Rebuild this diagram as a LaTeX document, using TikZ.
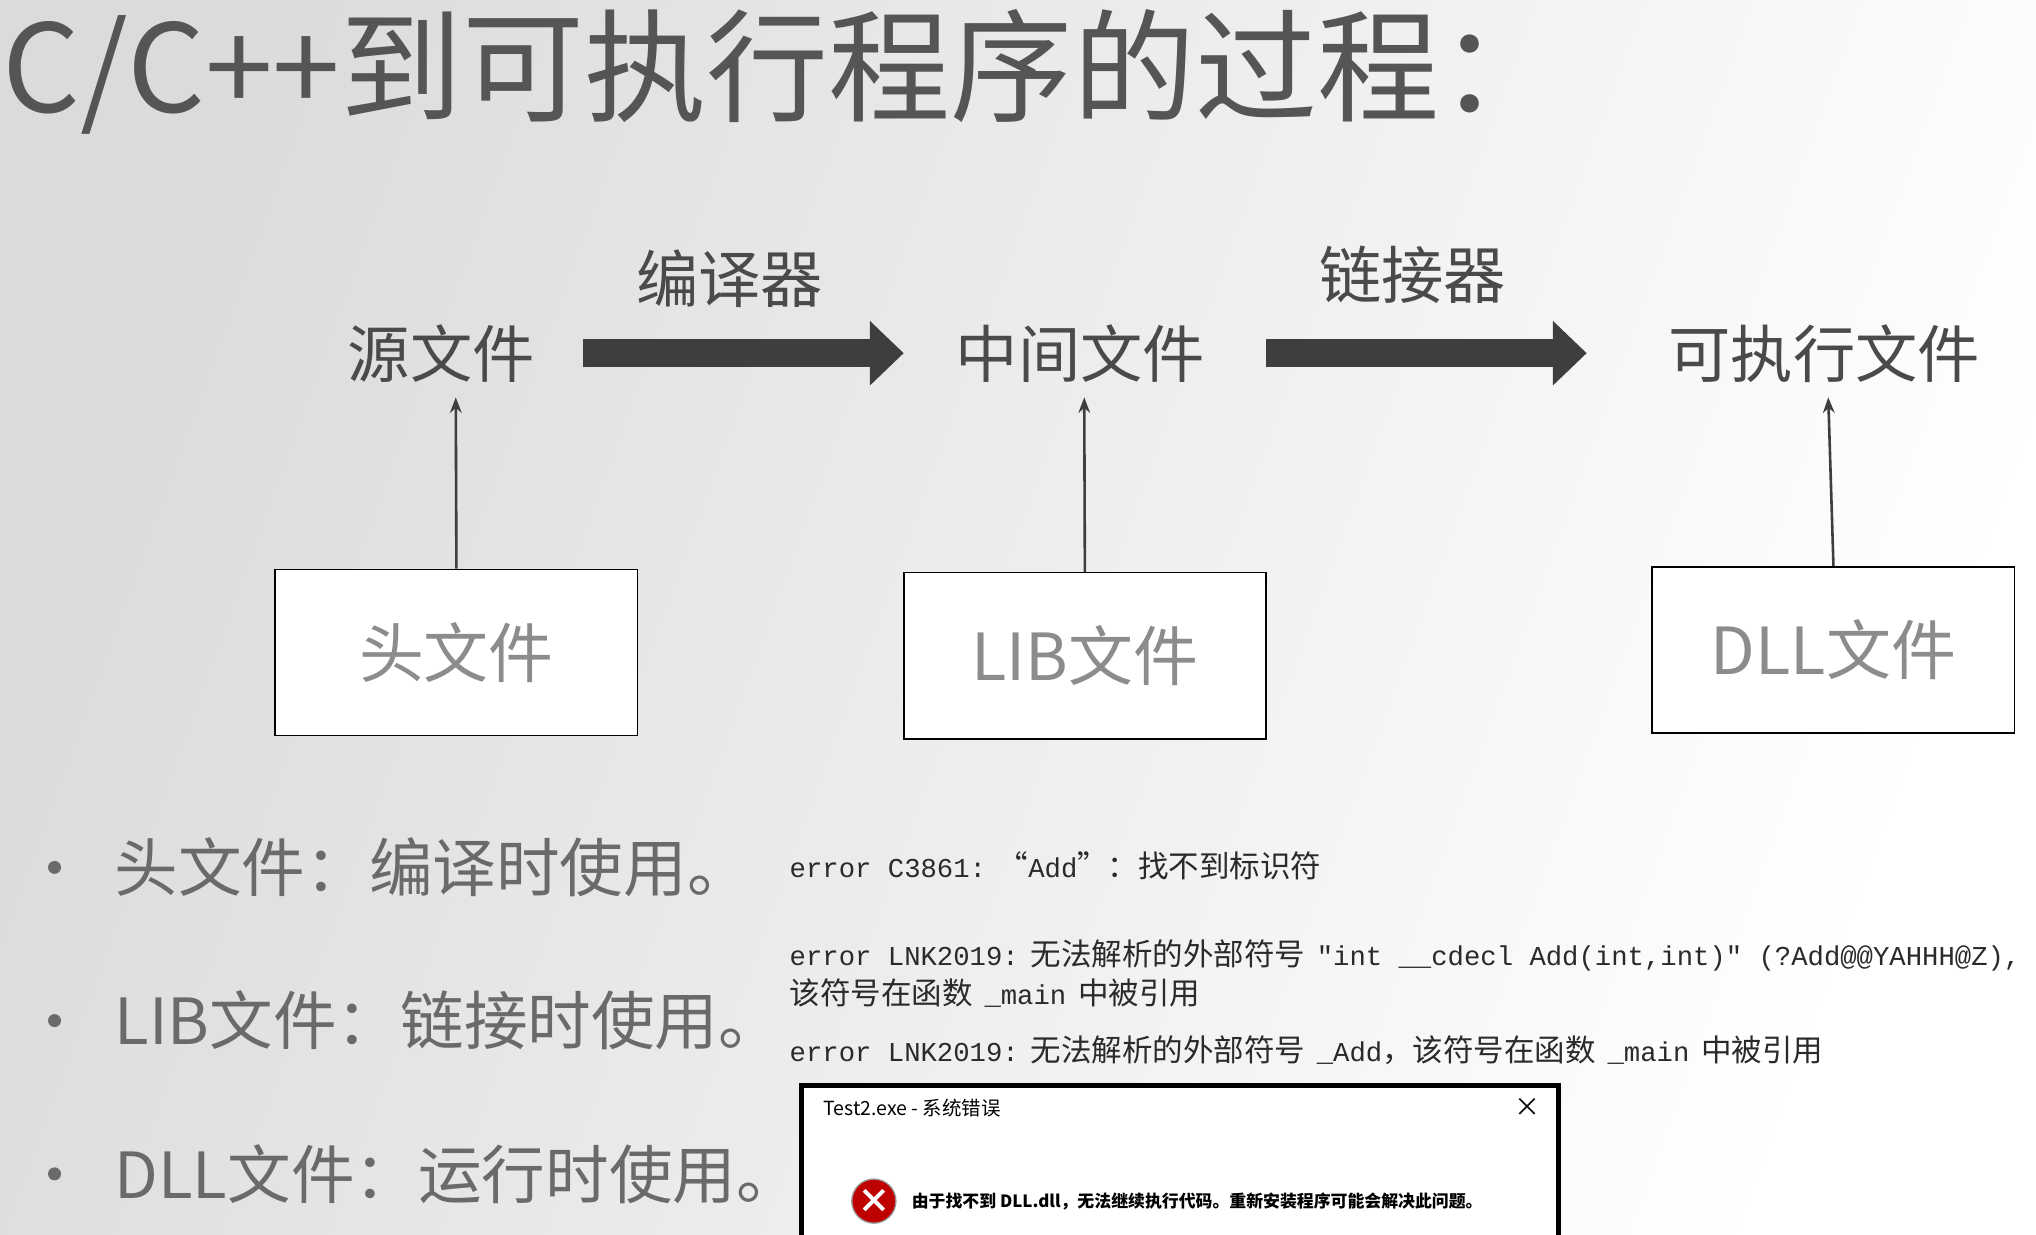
\documentclass[tikz,border=0pt]{standalone}
\usepackage{fontspec}
\setmainfont{Noto Sans CJK SC}
\setmonofont{Liberation Mono}
\usetikzlibrary{arrows.meta}
\definecolor{titlec}{HTML}{555555}
\definecolor{labc}{HTML}{4A4A4A}
\definecolor{boxc}{HTML}{8C8C8C}
\definecolor{bulc}{HTML}{6A6A6A}
\definecolor{errc}{HTML}{2A2A2A}
\definecolor{arrc}{HTML}{3E3E3E}
\newcommand{\tm}[1]{{\ttfamily\fontsize{21}{24}\selectfont #1}}
\newcommand{\cj}[1]{{\fontsize{23.5}{25}\selectfont #1}}
\newcommand{\gapsp}{\hspace{9pt}}
\begin{document}
\begin{tikzpicture}[x=1pt,y=-1pt,
  lab/.style={inner sep=0pt,text=labc,font=\fontsize{48}{50}\selectfont},
  boxnode/.style={draw=black,line width=1.3pt,fill=white,minimum width=279pt,minimum height=128pt,inner sep=0pt,text=boxc,font=\fontsize{50}{52}\selectfont},
  bigarrow/.style={draw=arrc,line width=22pt,-{Triangle[length=26pt,width=48pt]}},
  thinarrow/.style={draw=arrc,line width=2pt,-{Stealth[length=12pt,width=9pt]}},
  bullet/.style={inner sep=0pt,anchor=west,text=bulc,font=\fontsize{49}{52}\selectfont},
  err/.style={inner sep=0pt,anchor=west,text=errc,align=left}]
\useasboundingbox (0,0) rectangle (1568,951);
\shade[left color=black!14,right color=white,shading angle=70] (0,0) rectangle (1568,951);
\node[inner sep=0pt,anchor=west,text=titlec,font=\fontsize{94}{96}\selectfont] (title) at (2,55) {C/C++到可执行程序的过程：};
\node[lab] (src) at (340,272) {源文件};
\node[lab] (mid) at (832,272) {中间文件};
\node[lab] (exe) at (1405,272) {可执行文件};
\node[lab] (cmp) at (562,215) {编译器};
\node[lab] (lnk) at (1088,212) {链接器};
\coordinate (a1s) at (449,272); \coordinate (a1e) at (696,272);
\coordinate (a2s) at (975,272); \coordinate (a2e) at (1222,272);
\draw[bigarrow] (a1s) -- (a1e);
\draw[bigarrow] (a2s) -- (a2e);
\node[boxnode] (hdr) at (351.5,502.5) {头文件};
\node[boxnode] (lib) at (835.5,505) {LIB文件};
\node[boxnode] (dll) at (1412,500.5) {DLL文件};
\coordinate (t1) at (351,306); \coordinate (t2) at (835,306); \coordinate (t3) at (1408,306);
\draw[thinarrow] (hdr.north) -- (t1);
\draw[thinarrow] (lib.north) -- (t2);
\draw[thinarrow] (dll.north) -- (t3);
\foreach \y/\t [count=\i] in {668/头文件：编译时使用。,786/LIB文件：链接时使用。,904/DLL文件：运行时使用。}{
  \fill[bulc] (42,\y) circle (5pt);
  \node[bullet] (b\i) at (88,\y) {\t};
}
\node[err] (e1) at (608,667) {\tm{error C3861:}\gapsp\cj{“}\tm{Add}\cj{”：找不到标识符}};
\node[err] (e2) at (608,736) {\tm{error LNK2019:}\gapsp\cj{无法解析的外部符号}\gapsp\tm{"int \_\_cdecl Add(int,int)" (?Add@@YAHHH@Z),}};
\node[err] (e3) at (608,765) {\cj{该符号在函数}\gapsp\tm{\_main}\gapsp\cj{中被引用}};
\node[err] (e4) at (608,809) {\tm{error LNK2019:}\gapsp\cj{无法解析的外部符号}\gapsp\tm{\_Add}\cj{，该符号在函数}\gapsp\tm{\_main}\gapsp\cj{中被引用}};
\fill[white] (615,835) rectangle (1202,960);
\draw[black,line width=4pt] (617,960) -- (617,836) -- (1200,836) -- (1200,960);
\node[inner sep=0pt,anchor=west,font=\fontsize{15}{17}\selectfont] (dt) at (634,853) {Test2.exe - 系统错误};
\node[inner sep=0pt,font=\fontsize{20}{20}\selectfont] (dx) at (1176,853) {×};
\node[circle,fill=red!75!black,draw=black!40,line width=1pt,minimum size=34pt,inner sep=0pt,text=white,font=\bfseries\fontsize{26}{26}\selectfont] (icon) at (673,925) {×};
\node[inner sep=0pt,anchor=west,font=\bfseries\fontsize{13}{15}\selectfont] (msg) at (702,925) {由于找不到 DLL.dll，无法继续执行代码。重新安装程序可能会解决此问题。};
\end{tikzpicture}
\end{document}
